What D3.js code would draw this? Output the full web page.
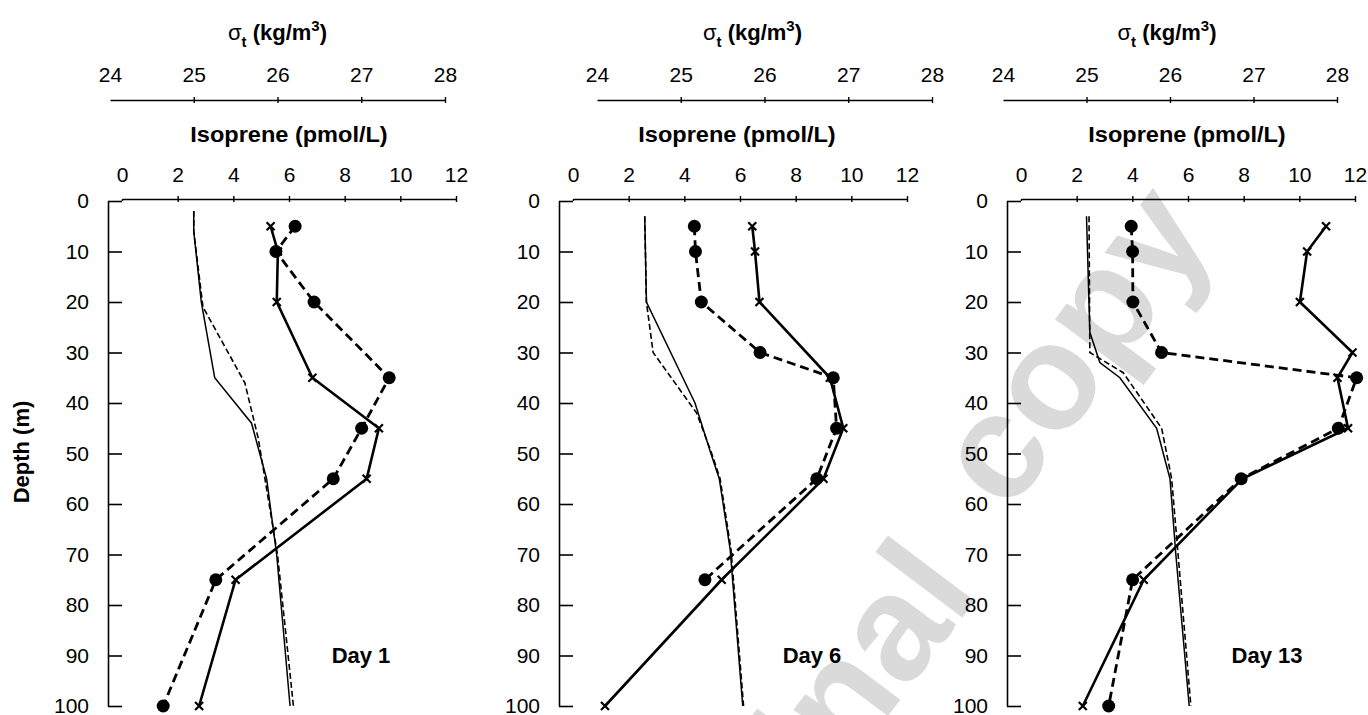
<!DOCTYPE html>
<html><head><meta charset="utf-8">
<script src="https://cdn.jsdelivr.net/npm/d3@7"></script>
<style>
body{margin:0;background:#fff}
svg text{font-family:"Liberation Sans",Arial,Helvetica,sans-serif;fill:#000}
</style>
</head><body>
<svg id="chart" width="1368" height="715"></svg>
<script>
// ---------- data ----------
const dayLabels = ["Day 1", "Day 6", "Day 13"];
const depthTicks = [0, 10, 20, 30, 40, 50, 60, 70, 80, 90, 100];
const isoTicks = [0, 2, 4, 6, 8, 10, 12];
const sigmaTicks = [24, 25, 26, 27, 28];

// isoprene sampling depths (m); null = no sample
const isoDepths = [5, 10, 20, 30, 35, 45, 55, 75, 100];
const crossDay1  = [5.34, 5.60, 5.56, null, 6.84, 9.23, 8.79, 4.08, 2.77];
const circleDay1 = [6.22, 5.53, 6.90, null, 9.60, 8.61, 7.59, 3.37, 1.48];
const crossDay6  = [6.44, 6.54, 6.70, null, 9.23, 9.71, 9.00, 5.34, 1.15];
const circleDay6 = [4.36, 4.40, 4.61, 6.72, 9.35, 9.47, 8.76, 4.74, null];
const crossDay13  = [10.96, 10.28, 10.02, 11.91, 11.37, 11.75, 7.95, 4.41, 2.22];
const circleDay13 = [3.96, 4.01, 4.02, 5.05, 12.06, 11.40, 7.91, 4.01, 3.15];

// sigma-t profiles (kg/m3)
const sigSolidDepthDay1 = [2, 6, 20, 35, 44, 55, 65, 70, 100];
const sigSolidDay1      = [25.00, 25.00, 25.09, 25.25, 25.69, 25.87, 25.95, 25.99, 26.15];
const sigDashDepthDay1  = [2, 6, 21, 36, 47, 55, 70, 100];
const sigDashDay1       = [25.00, 25.00, 25.11, 25.61, 25.77, 25.85, 26.00, 26.19];
const sigSolidDepthDay6 = [3, 20, 40, 50, 55, 69, 100];
const sigSolidDay6      = [24.57, 24.59, 25.17, 25.36, 25.46, 25.59, 25.74];
const sigDashDepthDay6  = [3, 20, 30, 42, 50, 55, 69, 100];
const sigDashDay6       = [24.57, 24.59, 24.67, 25.19, 25.37, 25.47, 25.60, 25.75];
const sigSolidDepthDay13 = [3, 26, 32, 35, 45, 55, 70, 100];
const sigSolidDay13      = [25.00, 25.04, 25.16, 25.40, 25.84, 26.00, 26.07, 26.23];
const sigDashDepthDay13  = [3, 30, 34, 45, 55, 100];
const sigDashDay13       = [25.03, 25.04, 25.44, 25.90, 26.02, 26.25];

const crossSeries = [crossDay1, crossDay6, crossDay13];
const circleSeries = [circleDay1, circleDay6, circleDay13];
const sigSolidDepths = [sigSolidDepthDay1, sigSolidDepthDay6, sigSolidDepthDay13];
const sigSolidVals = [sigSolidDay1, sigSolidDay6, sigSolidDay13];
const sigDashDepths = [sigDashDepthDay1, sigDashDepthDay6, sigDashDepthDay13];
const sigDashVals = [sigDashDay1, sigDashDay6, sigDashDay13];

// ---------- layout ----------
const layout = [
  {axisX:108, iso0:122, iso12:456, sig24:110, sig28:445, sigTitleX:277.5, isoTitleX:289, dayX:361},
  {axisX:559, iso0:573, iso12:907, sig24:597, sig28:932, sigTitleX:752.5, isoTitleX:737, dayX:812},
  {axisX:1007, iso0:1021, iso12:1355, sig24:1003, sig28:1337, sigTitleX:1167, isoTitleX:1187, dayX:1267}
];
const yTop = 201, yBot = 706, isoAxisY = 199, sigAxisY = 100;

const svg = d3.select("#chart");
svg.append("rect").attr("width",1368).attr("height",715).attr("fill","#fff");

// watermark (behind the chart)
const wm = svg.append("g").attr("font-weight","bold").attr("font-size",150);
wm.append("text").attr("transform","translate(640,1045) rotate(-53)").style("fill","#dadada").text("Original");
wm.append("text").attr("transform","translate(1008,515) rotate(-53.3)").style("fill","#dadada").text("copy");

const y = d3.scaleLinear().domain([0,100]).range([yTop,yBot]);

layout.forEach((L, i) => {
  const g = svg.append("g");
  const x = d3.scaleLinear().domain([0,12]).range([L.iso0, L.iso12]);
  const xs = d3.scaleLinear().domain([24,28]).range([L.sig24, L.sig28]);

  // depth axis
  const ya = g.append("g").attr("transform",`translate(${L.axisX},0)`)
    .call(d3.axisLeft(y).tickValues(depthTicks).tickSize(-(L.iso0-L.axisX)).tickSizeOuter(0).tickPadding(19));
  ya.select(".domain").attr("stroke-width",1.6);
  ya.selectAll(".tick line").attr("stroke-width",1.6);
  ya.selectAll(".tick text").attr("font-size",21).attr("font-family",null);

  // isoprene axis
  const xa = g.append("g").attr("transform",`translate(0,${isoAxisY})`)
    .call(d3.axisTop(x).tickValues(isoTicks).tickFormat(d3.format("d")).tickSize(3).tickSizeOuter(0).tickPadding(14));
  xa.select(".domain").attr("stroke-width",1.6);
  xa.selectAll(".tick line").attr("stroke-width",1.4)
    .attr("y1", d => d === 0 ? 2 : 3).attr("y2", d => d === 0 ? 0 : -3);
  xa.selectAll(".tick text").attr("font-size",21).attr("font-family",null);

  // sigma axis
  const sa = g.append("g").attr("transform",`translate(0,${sigAxisY})`)
    .call(d3.axisTop(xs).tickValues(sigmaTicks).tickFormat(d3.format("d")).tickSize(3).tickSizeOuter(0).tickPadding(15));
  sa.select(".domain").attr("stroke-width",1.6);
  sa.selectAll(".tick line").attr("stroke-width",1.4)
    .attr("y1",3).attr("y2",-3).attr("stroke", d => d === 24 ? "none" : "currentColor");
  sa.selectAll(".tick text").attr("font-size",21).attr("font-family",null);

  // titles
  g.append("text").attr("transform",`translate(${L.isoTitleX},142) scale(1.07,1)`)
    .attr("text-anchor","middle").attr("font-size",22).attr("font-weight","bold")
    .text("Isoprene (pmol/L)");
  const st = g.append("text").attr("x",L.sigTitleX).attr("y",40)
    .attr("text-anchor","middle").attr("font-size",22).attr("font-weight","bold");
  st.append("tspan").attr("font-weight","normal").text("σ");
  st.append("tspan").attr("font-size",15).attr("dy",7).text("t");
  st.append("tspan").attr("dy",-7).text(" (kg/m");
  st.append("tspan").attr("font-size",15).attr("dy",-9).text("3");
  st.append("tspan").attr("dy",9).text(")");

  g.append("text").attr("x",L.dayX).attr("y",663).attr("text-anchor","middle")
    .attr("font-size",22).attr("font-weight","bold").text(dayLabels[i]);

  // sigma profiles
  const sigLine = d3.line().x(d => xs(d[1])).y(d => y(d[0]));
  g.append("path").datum(d3.zip(sigSolidDepths[i], sigSolidVals[i]))
    .attr("d", sigLine).attr("fill","none").attr("stroke","#000").attr("stroke-width",1.5);
  g.append("path").datum(d3.zip(sigDashDepths[i], sigDashVals[i]))
    .attr("d", sigLine).attr("fill","none").attr("stroke","#000").attr("stroke-width",1.6)
    .attr("stroke-dasharray","6,3");

  // isoprene profiles
  const isoLine = d3.line().x(d => x(d[1])).y(d => y(d[0]));
  const crossPts = d3.zip(isoDepths, crossSeries[i]).filter(d => d[1] !== null);
  const circPts = d3.zip(isoDepths, circleSeries[i]).filter(d => d[1] !== null);

  g.append("path").datum(circPts).attr("d", isoLine).attr("fill","none")
    .attr("stroke","#000").attr("stroke-width",2.8).attr("stroke-dasharray","9,5");
  g.append("path").datum(crossPts).attr("d", isoLine).attr("fill","none")
    .attr("stroke","#000").attr("stroke-width",2.6);

  g.selectAll(".circ").data(circPts).join("circle").attr("class","circ")
    .attr("cx", d => x(d[1])).attr("cy", d => y(d[0])).attr("r",6.5).attr("fill","#000");

  const s = 4;
  g.selectAll(".cross").data(crossPts).join("path").attr("class","cross")
    .attr("d", d => { const cx = x(d[1]), cy = y(d[0]);
      return `M${cx-s},${cy-s}L${cx+s},${cy+s}M${cx-s},${cy+s}L${cx+s},${cy-s}`; })
    .attr("stroke","#000").attr("stroke-width",2.2).attr("fill","none");
});

// Depth axis title
svg.append("text").attr("transform","translate(29,452) rotate(-90)")
  .attr("text-anchor","middle").attr("font-size",22).attr("font-weight","bold")
  .text("Depth (m)");
</script>
</body></html>
